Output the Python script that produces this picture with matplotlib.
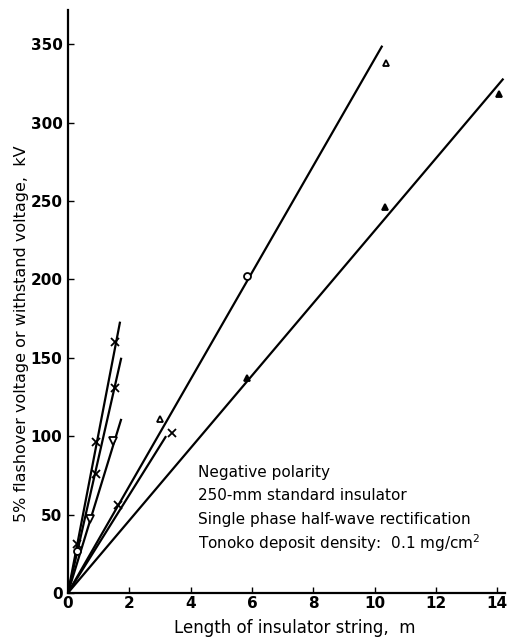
import matplotlib
matplotlib.use('Agg')
from matplotlib import pyplot as plt

# fitted lines: drawn from origin to (end_x, end_y)
line_end_x = [1.70, 1.74, 1.74, 3.20, 10.25, 14.20]
line_end_y = [173, 150, 111, 100, 349, 328]

# measured points
cross_a_x = [0.30, 0.92, 1.52]
cross_a_y = [31, 96, 160]
cross_b_x = [0.90, 1.52]
cross_b_y = [76, 131]
vtri_x = [0.72, 1.47]
vtri_y = [47, 97]
circ_x = [0.28, 5.85]
circ_y = [27, 202]
cross_c_x = [1.62, 3.40]
cross_c_y = [56, 102]
otri_x = [3.00, 10.36]
otri_y = [111, 338]
ftri_x = [5.85, 10.33, 14.06]
ftri_y = [137, 246, 318]

notes = ['Negative polarity',
         '250-mm standard insulator',
         'Single phase half-wave rectification',
         'Tonoko deposit density:  0.1 mg/cm$^2$']

plt.rcParams['font.family'] = ['DejaVu Sans']

fig = plt.figure(figsize=(5.07, 6.41), dpi=100)
ax = fig.add_axes([0.134, 0.075, 0.862, 0.91])

for ex, ey in zip(line_end_x, line_end_y):
    ax.plot([0, ex], [0, ey], color='black', lw=1.6, solid_capstyle='butt')

mk = dict(linestyle='none', color='black', ms=6, mew=1.3)
ax.plot(cross_a_x, cross_a_y, marker='x', **mk)
ax.plot(cross_b_x, cross_b_y, marker='x', **mk)
ax.plot(cross_c_x, cross_c_y, marker='x', **mk)
ax.plot(vtri_x, vtri_y, marker='v', mfc='white', **mk)
ax.plot(circ_x, circ_y, marker='o', mfc='white', **dict(mk, ms=5))
ax.plot(otri_x, otri_y, marker='^', mfc='white', **dict(mk, ms=5))
ax.plot(ftri_x, ftri_y, marker='^', mfc='black', **dict(mk, ms=5))

for i, s in enumerate(notes):
    ax.text(4.25, 77 - i * 15, s, fontsize=11, va='center', ha='left')

ax.set_xlim(0, 14.25)
ax.set_ylim(0, 372)
ax.set_xticks(range(0, 15, 2))
ax.set_yticks(range(0, 351, 50))
ax.spines['top'].set_visible(False)
ax.spines['right'].set_visible(False)
ax.spines['left'].set_linewidth(1.6)
ax.spines['bottom'].set_linewidth(1.6)
ax.tick_params(direction='in', length=4, width=1, labelsize=11, pad=2)
ax.tick_params(axis='y', pad=4)
for lab in ax.get_xticklabels() + ax.get_yticklabels():
    lab.set_fontweight('bold')

ax.set_xlabel('Length of insulator string,  m', fontsize=12)
ax.set_ylabel('5% flashover voltage or withstand voltage,  kV', fontsize=11.5)
ax.yaxis.set_label_coords(-0.09, 0.445)
ax.xaxis.set_label_coords(0.52, -0.045)

fig.savefig('out.png', dpi=100)
